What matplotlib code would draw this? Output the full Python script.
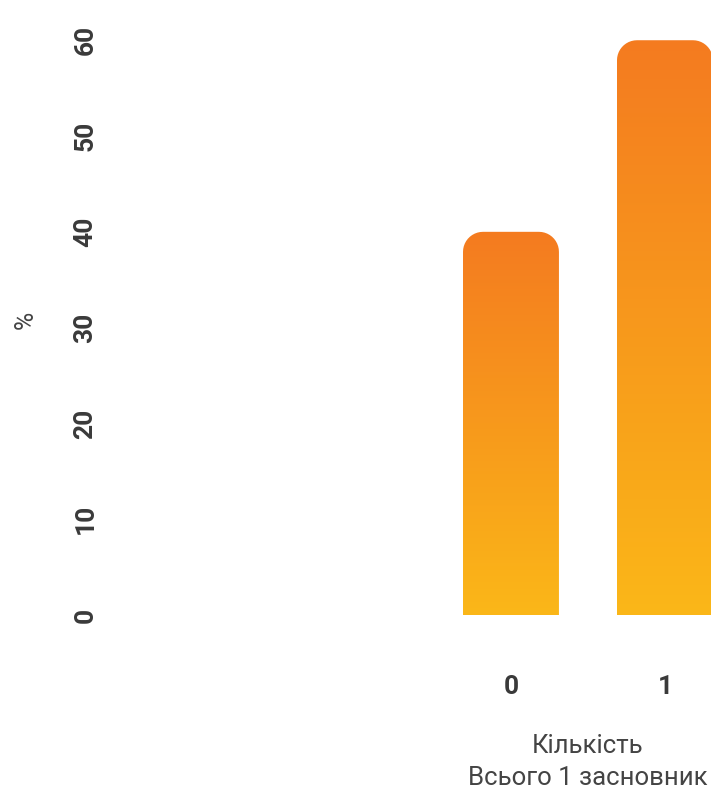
import numpy as np
import matplotlib
matplotlib.use('Agg')
import matplotlib.pyplot as plt
from matplotlib.path import Path
from matplotlib.patches import PathPatch
from matplotlib.colors import LinearSegmentedColormap

categories = ['0', '1']
values = [40, 60]
yticks = [0, 10, 20, 30, 40, 50, 60]

plt.rcParams['font.family'] = ['Roboto', 'DejaVu Sans']
txt = '#3a3a3a'

fig = plt.figure(figsize=(7.11, 7.92), dpi=100)
ax = fig.add_axes([110/711, 1-615/792, 601/711, 615/792])
x = np.arange(len(categories))
width = 0.623
bars = ax.bar(x, values, width=width, color='none')
ax.set_xlim(-2.604, 1.299)
ax.set_ylim(0, 64.2)

cmap = LinearSegmentedColormap.from_list('og', ['#fbb718', '#f47b20'])
grad = np.linspace(0, 1, 256).reshape(-1, 1)

# rounded top corners, radius in pixels
r_px = 20
sx = (1.299 + 2.604) / 601
sy = 64.2 / 615
rx, ry = r_px * sx, r_px * sy
t = np.linspace(0, np.pi / 2, 12)
for b in bars:
    x0, w, h = b.get_x(), b.get_width(), b.get_height()
    x1 = x0 + w
    pts = [(x0, 0), (x1, 0)]
    pts += [(x1 - rx + rx * np.cos(a), h - ry + ry * np.sin(a)) for a in t]
    pts += [(x0 + rx - rx * np.cos(a), h - ry + ry * np.sin(a)) for a in t[::-1]]
    pts.append((x0, 0))
    clip = PathPatch(Path(pts), facecolor='none', edgecolor='none')
    ax.add_patch(clip)
    im = ax.imshow(grad, extent=[x0, x1, 0, h], origin='lower', aspect='auto',
                   cmap=cmap, interpolation='bicubic', zorder=2)
    im.set_clip_path(clip)

ax.set_xlim(-2.604, 1.299)
ax.set_ylim(0, 64.2)
for s in ax.spines.values():
    s.set_visible(False)
ax.set_xticks(x)
ax.set_xticklabels(categories, fontsize=19, fontweight='bold', color=txt)
ax.set_yticks(yticks)
ax.set_yticklabels([str(v) for v in yticks], fontsize=19, fontweight='bold',
                   color=txt, rotation=90, va='center')
ax.tick_params(length=0)
ax.tick_params(axis='x', pad=43)
ax.tick_params(axis='y', pad=9)
ax.set_ylabel('%', fontsize=18, color='#444444')
ax.yaxis.set_label_coords(-0.12, 0.48)
ax.set_xlabel('Кількість\nВсього 1 засновник', fontsize=18.5, color='#444444',
              linespacing=1.38)
ax.xaxis.set_label_coords(0.795, -0.194)

fig.savefig('out.png', dpi=100)
